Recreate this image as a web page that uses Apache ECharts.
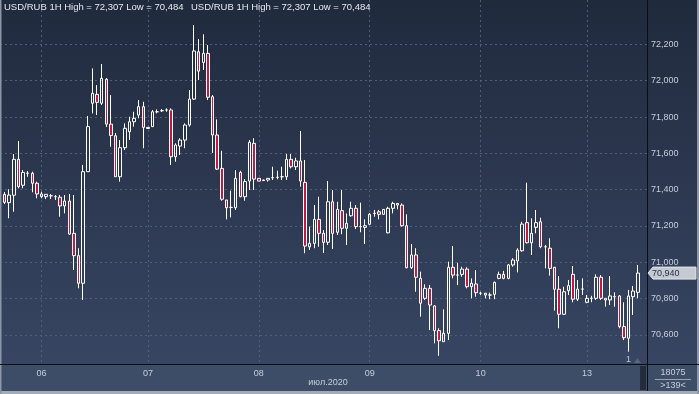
<!DOCTYPE html>
<html><head><meta charset="utf-8">
<script src="https://cdn.jsdelivr.net/npm/echarts@6/dist/echarts.min.js"></script>
<style>html,body{margin:0;padding:0;background:#2a354c;}#c{width:699px;height:394px;}</style>
</head><body><div id="c"></div>
<script>
// ---- data (USD/RUB, 1H candles) ----
const opens = [71374,71328,71369,71567,71424,71490,71490,71435,71361,71361,71366,71361,71358,71310,71337,71159,71036,70884,71499,71876,
71925,71876,72008,71761,71697,71471,71631,71719,71774,71811,71857,71743,71747,71829,71835,71839,71839,71581,71640,71673,
71756,71899,72160,72101,72151,71912,71701,71517,71343,71302,71300,71495,71361,71447,71655,71462,71450,71453,71466,71468,
71471,71471,71567,71526,71558,71440,71085,71104,71236,71159,71110,71333,71165,71284,71187,71256,71297,71196,71192,71209,
71269,71278,71264,71162,71297,71324,71315,71201,70970,71040,70911,70801,70856,70759,70623,70562,70608,70972,70929,70933,
70962,70865,70880,70829,70819,70819,70823,70911,70933,70911,70985,71007,71063,71218,71107,71192,71223,71085,71077,70972,
70851,70713,70843,70933,70796,70852,70779,70801,70801,70917,70801,70792,70810,70814,70645,70581,70810,70834];
const closes = [71330,71370,71567,71416,71495,71490,71435,71376,71376,71374,71366,71361,71310,71337,71155,71036,70884,71499,71747,71931,
71881,72013,71761,71698,71471,71631,71738,71774,71793,71857,71743,71737,71829,71829,71835,71839,71581,71646,71673,71756,
71899,72164,72053,72151,71909,71701,71513,71347,71300,71302,71462,71361,71444,71661,71458,71447,71453,71462,71466,71468,
71471,71567,71526,71558,71447,71089,71104,71236,71159,71109,71333,71159,71291,71187,71214,71297,71196,71196,71201,71264,
71269,71264,71291,71297,71324,71315,71201,70970,71040,70917,70774,70856,70764,70623,70567,70608,70972,70929,70929,70962,
70865,70884,70832,70829,70829,70819,70889,70933,70911,70985,71012,71067,71210,71107,71159,71218,71085,71085,70966,70851,
70713,70837,70871,70796,70852,70852,70801,70801,70917,70801,70792,70814,70810,70645,70584,70814,70841,70940];
const lows = [71321,71242,71278,71407,71407,71471,71385,71352,71352,71348,71348,71343,71251,71269,71150,70957,70856,70792,71499,71820,
71811,71866,71745,71636,71471,71444,71618,71673,71747,71793,71628,71736,71747,71820,71828,71829,71536,71554,71591,71628,
71747,71894,72004,72059,71894,71602,71508,71339,71236,71247,71288,71358,71339,71398,71398,71447,71448,71444,71453,71457,
71453,71453,71517,71508,71416,71049,71067,71077,71085,71051,71095,71073,71150,71154,71095,71251,71183,71165,71100,71205,
71251,71236,71260,71159,71269,71291,71196,70966,70962,70837,70700,70792,70626,70553,70484,70562,70571,70911,70874,70920,
70856,70801,70810,70819,70801,70796,70796,70906,70906,70906,70975,70944,71058,71104,71040,71159,71077,70966,70926,70733,
70636,70709,70819,70779,70786,70819,70774,70779,70792,70792,70755,70764,70755,70636,70571,70507,70709,70801];
const highs = [71387,71402,71596,71668,71508,71502,71499,71444,71388,71374,71376,71370,71370,71370,71376,71370,71077,71536,71806,72068,
71976,72092,72015,71921,71712,71673,71765,71802,71829,71894,71884,71744,71839,71842,71844,71848,71848,71655,71683,71765,
71949,72307,72230,72256,72197,71921,71787,71614,71343,71394,71508,71504,71458,71673,71683,71462,71455,71462,71526,71504,
71526,71596,71596,71576,71723,71563,71196,71315,71361,71177,71447,71398,71333,71398,71269,71333,71315,71328,71236,71271,
71288,71288,71293,71306,71333,71324,71324,71264,71100,71077,70948,70878,70874,70764,70636,70740,71003,71089,70997,70975,
70972,70911,70957,70837,70831,70832,70893,70948,70952,70990,71022,71077,71223,71438,71242,71288,71245,71095,71132,70972,
70924,70865,70902,70979,70902,70911,70819,70815,70933,70929,70801,70924,70834,70819,70779,70847,70869,70985];

const dayLabels = ['06','07','08','09','10','13'];
const dayIndex  = [9, 32, 56, 80, 104, 127];     // category slot of each day's first hour
const yTicks = [70600,70800,71000,71200,71400,71600,71800,72000,72200];
const monthLabel = 'июл.2020';
const titleText = 'USD/RUB 1H High = 72,307 Low = 70,484';
const lastPrice = 70940;
const barsTotal = '18075';
const barsVisible = '>139<';
const padBefore = 1, padAfter = 2;   // empty slots on the time axis

// ---- build ----
const n = opens.length;
const slots = padBefore + n + padAfter;
const categories = [];
for (let i = 0; i < slots; i++) categories.push(String(i));
const candleData = opens.map((o, k) => [k + padBefore, o, closes[k], lows[k], highs[k]]);
const fmt = v => String(v).replace(/\B(?=(\d{3})+(?!\d))/g, ',');

const FONT = 'Liberation Sans';
const labelColor = '#c6cdd9';
const gridColor = '#4f5e7b';

const chart = echarts.init(document.getElementById('c'), null, {renderer: 'canvas'});

const baseGraphics = [
  {type:'rect', id:'bg', z:-100, silent:true, shape:{x:0,y:0,width:699,height:394},
   style:{fill:new echarts.graphic.LinearGradient(0,0,0,1,[{offset:0,color:'#202a3d'},{offset:1,color:'#3a4866'}])}},
  {type:'rect', id:'bpanel', z:-90, silent:true, shape:{x:0,y:364,width:699,height:30}, style:{fill:'#3e4d67'}},
  {type:'rect', id:'bborder', z:-80, silent:true, shape:{x:0,y:391,width:699,height:3}, style:{fill:'#a3abb7'}},
  {type:'rect', id:'lborder', z:50, silent:true, shape:{x:0,y:0,width:1.5,height:394}, style:{fill:'#8c96a6'}},
  {type:'rect', id:'rborder', z:50, silent:true, shape:{x:697,y:0,width:2,height:394}, style:{fill:'#8c96a6'}},
  {type:'line', id:'hline', z:50, silent:true, shape:{x1:0,y1:364.5,x2:699,y2:364.5}, style:{stroke:'#0b0e15',lineWidth:1}},
  {type:'line', id:'vline', z:50, silent:true, shape:{x1:647.5,y1:0,x2:647.5,y2:391}, style:{stroke:'#0b0e15',lineWidth:1}},
  {type:'rect', id:'scroll', z:40, silent:true, shape:{x:640,y:366,width:6,height:24}, style:{fill:'#242c3c'}},
  {type:'text', id:'t1', z:60, silent:true, x:4, y:2, style:{text:titleText, fill:'#e4e8ee', font:'9.5px "'+FONT+'"'}},
  {type:'text', id:'t2', z:60, silent:true, x:191, y:2, style:{text:titleText, fill:'#e4e8ee', font:'9.5px "'+FONT+'"'}},
  {type:'text', id:'month', z:60, silent:true, x:328, y:383, style:{text:monthLabel, fill:labelColor, font:'9px "'+FONT+'"', align:'center', verticalAlign:'middle'}},
  {type:'text', id:'cnt1', z:60, silent:true, x:673, y:373, style:{text:barsTotal, fill:labelColor, font:'9px "'+FONT+'"', align:'center', verticalAlign:'middle'}},
  {type:'line', id:'cntsep', z:60, silent:true, shape:{x1:655,y1:379.5,x2:691,y2:379.5}, style:{stroke:'#9aa3b1',lineWidth:1}},
  {type:'text', id:'cnt2', z:60, silent:true, x:673, y:386, style:{text:barsVisible, fill:labelColor, font:'9px "'+FONT+'"', align:'center', verticalAlign:'middle'}},
  {type:'text', id:'one', z:60, silent:true, x:628.5, y:359.5, style:{text:'1', fill:'#c0c8d4', font:'9px "'+FONT+'"', align:'center', verticalAlign:'middle'}},
  {type:'polygon', id:'tri', z:60, silent:true, shape:{points:[[634,363],[641,363],[637.5,358]]}, style:{fill:'#5b6578'}}
];

chart.setOption({
  animation: false,
  backgroundColor: 'transparent',
  textStyle: {fontFamily: FONT},
  grid: {left: 0, top: 0, right: 52, bottom: 30, containLabel: false},
  xAxis: {
    type: 'category', data: categories, boundaryGap: false,
    axisLine: {show: true, lineStyle: {color: '#0b0e15'}},
    axisTick: {show: false},
    axisLabel: {
      interval: (i) => dayIndex.indexOf(i) >= 0,
      formatter: (v, i) => { const j = dayIndex.indexOf(Number(v)); return j >= 0 ? dayLabels[j] : ''; },
      color: labelColor, fontSize: 9, margin: 5, fontFamily: FONT
    },
    splitLine: {show: true, interval: (i) => dayIndex.indexOf(i) >= 0,
      lineStyle: {color: gridColor, type: [2, 3], width: 1}}
  },
  yAxis: {
    type: 'value', position: 'right', min: 70439, max: 72445, scale: true,
    axisLine: {show: true, lineStyle: {color: '#0b0e15'}},
    axisTick: {show: false, customValues: yTicks},
    axisLabel: {customValues: yTicks, formatter: v => fmt(v), color: labelColor, fontSize: 9, margin: 4, fontFamily: FONT},
    splitLine: {show: true, lineStyle: {color: gridColor, type: [2, 3], width: 1}}
  },
  series: [{
    type: 'candlestick',
    data: candleData,
    encode: {x: 0, y: [1, 2, 3, 4]},
    barWidth: 3,
    itemStyle: {
      color: 'rgba(0,0,0,0)', color0: '#c21842',
      borderColor: '#ffffff', borderColor0: '#ffffff', borderWidth: 1
    }
  }],
  graphic: {elements: baseGraphics}
});

const py = chart.convertToPixel({yAxisIndex: 0}, lastPrice);
chart.setOption({graphic: {elements: [
  {type:'polygon', id:'tag', z:70, silent:true,
   shape:{points:[[648,py],[653,py-6],[696,py-6],[696,py+6],[653,py+6]]},
   style:{fill:'#c5cad2', stroke:'#e2e5ea', lineWidth:1}},
  {type:'text', id:'tagtxt', z:71, silent:true, x:652, y:py,
   style:{text:fmt(lastPrice), fill:'#2b3242', font:'9px "'+FONT+'"', verticalAlign:'middle'}}
]}});
</script>
</body></html>
